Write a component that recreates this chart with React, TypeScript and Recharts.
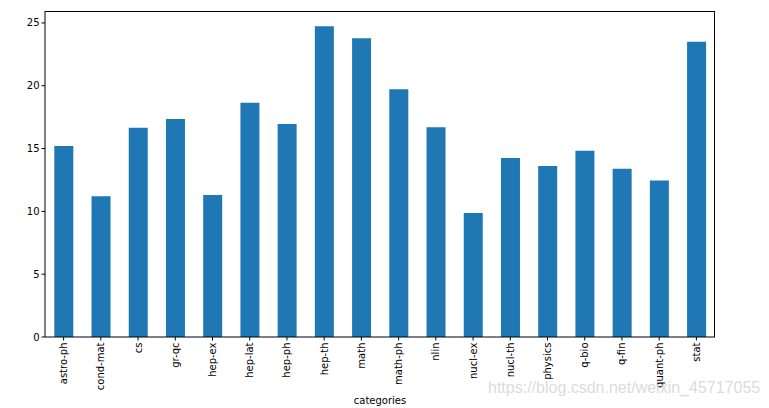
import React from 'react'
import { BarChart, Bar, XAxis, YAxis } from 'recharts'

const categories = [
  'astro-ph', 'cond-mat', 'cs', 'gr-qc', 'hep-ex', 'hep-lat', 'hep-ph', 'hep-th', 'math',
  'math-ph', 'nlin', 'nucl-ex', 'nucl-th', 'physics', 'q-bio', 'q-fin', 'quant-ph', 'stat',
]
const values = [
  15.2, 11.2, 16.65, 17.35, 11.3, 18.65, 16.95, 24.74, 23.78,
  19.72, 16.7, 9.87, 14.25, 13.62, 14.82, 13.4, 12.45, 23.5,
]
const yTicks = [0, 5, 10, 15, 20, 25]

const data = categories.map((c, i) => ({ category: c, value: values[i] }))

const font = '"DejaVu Sans", sans-serif'

function RotatedTick(props: any) {
  const { x, y, payload } = props
  return (
    <text
      x={x}
      y={y}
      transform={`rotate(-90, ${x}, ${y})`}
      textAnchor="end"
      dominantBaseline="central"
      fontSize={10}
      fontFamily={font}
      fill="#000"
    >
      {payload.value}
    </text>
  )
}

export default function App() {
  return (
    <div style={{ position: 'absolute', left: 0, top: 0, width: 769, height: 408, background: '#fff' }}>
      <BarChart
        width={769}
        height={408}
        data={data}
        margin={{ top: 11, right: 54, bottom: 2, left: 5 }}
        barCategoryGap="25%"
      >
        <XAxis
          dataKey="category"
          interval={0}
          height={69}
          axisLine={{ stroke: '#000' }}
          tickLine={{ stroke: '#000' }}
          tickSize={3.5}
          tick={<RotatedTick />}
          label={{ value: 'categories', position: 'insideBottom', offset: 2, fontSize: 10, fontFamily: font, fill: '#000' }}
        />
        <YAxis
          domain={[0, 25.95]}
          ticks={yTicks}
          width={40}
          axisLine={{ stroke: '#000' }}
          tickLine={{ stroke: '#000' }}
          tickSize={3.5}
          tick={{ fontSize: 10, fontFamily: font, fill: '#000' }}
        />
        <Bar dataKey="value" fill="#1f77b4" isAnimationActive={false} />
      </BarChart>
      {/* top and right spines */}
      <div
        style={{
          position: 'absolute',
          left: 45,
          top: 11,
          width: 670,
          height: 326,
          borderTop: '1px solid #000',
          borderRight: '1px solid #000',
          boxSizing: 'border-box',
          pointerEvents: 'none',
        }}
      />
      <div
        style={{
          position: 'absolute',
          left: 488,
          top: 379,
          fontFamily: '"Liberation Sans", Arial, sans-serif',
          fontSize: 16,
          color: '#dcdcdc',
          whiteSpace: 'nowrap',
        }}
      >
        https://blog.csdn.net/weixin_45717055
      </div>
    </div>
  )
}
